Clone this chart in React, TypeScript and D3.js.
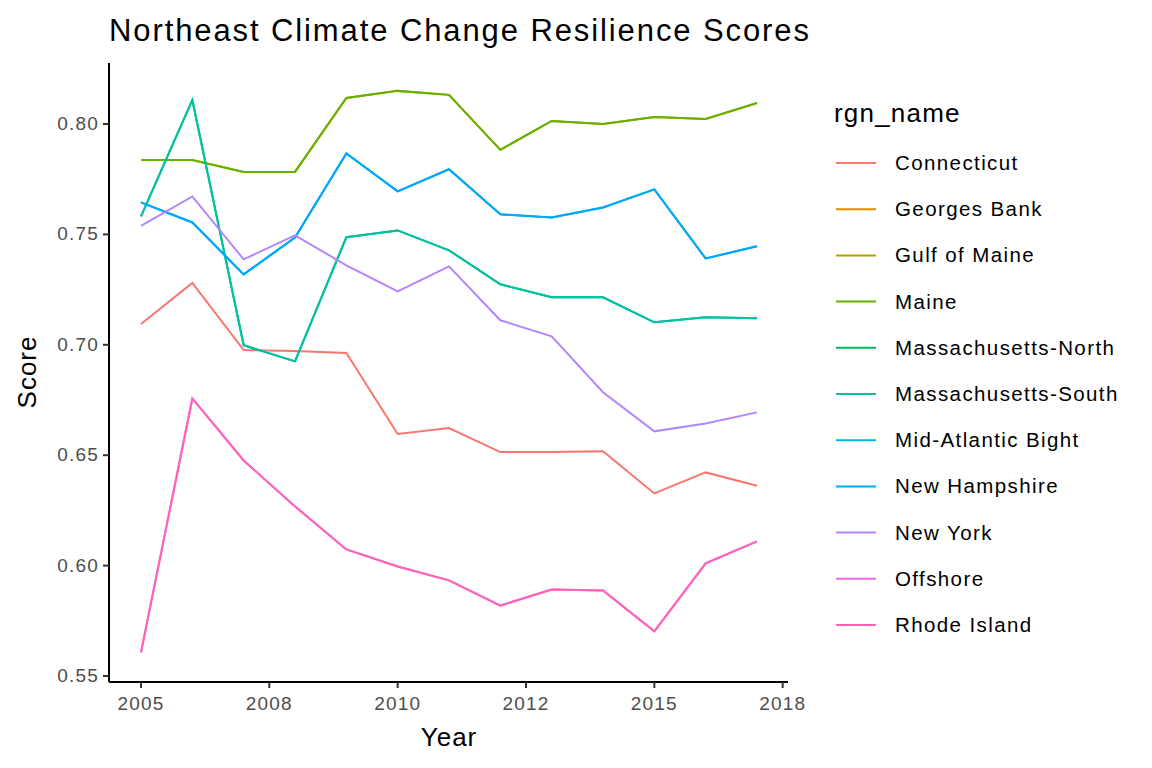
import React from "react";
import * as d3 from "d3";

const years = d3.range(2005, 2018);
const regions = ["Connecticut","Georges Bank","Gulf of Maine","Maine","Massachusetts-North","Massachusetts-South","Mid-Atlantic Bight","New Hampshire","New York","Offshore","Rhode Island"];
const colors = ["#F8766D","#DB8E00","#AEA200","#64B200","#00BD5C","#00C1A7","#00BADE","#00A6FF","#B385FF","#EF67EB","#FF63B6"];
const connecticut = [0.7094,0.728,0.6976,0.6972,0.6963,0.6596,0.6623,0.6514,0.6514,0.6518,0.6327,0.6422,0.6362];
const maine = [0.7837,0.7837,0.7783,0.7783,0.8118,0.815,0.8132,0.7883,0.8014,0.80,0.8032,0.8023,0.8095];
const mass = [0.7582,0.8109,0.6998,0.6925,0.7487,0.7518,0.7428,0.7274,0.7215,0.7215,0.7102,0.7125,0.712];
const newHampshire = [0.7645,0.7554,0.7319,0.7486,0.7867,0.7695,0.7795,0.7591,0.7577,0.7622,0.7704,0.7391,0.7446];
const newYork = [0.7539,0.7672,0.7387,0.7496,0.736,0.7242,0.7355,0.7111,0.7038,0.6785,0.6608,0.6644,0.6694];
const rhodeIsland = [0.5607,0.6757,0.6476,0.6268,0.6073,0.5996,0.5933,0.5819,0.5892,0.5887,0.5702,0.601,0.611];
const seriesData: (number[] | null)[] = [connecticut, null, maine, maine, mass, mass, newHampshire, newHampshire, newYork, rhodeIsland, rhodeIsland];
const xTicks = [2005, 2007.5, 2010, 2012.5, 2015, 2017.5];
const xTickLabels = ["2005","2008","2010","2012","2015","2018"];
const yTicks = [0.55, 0.6, 0.65, 0.7, 0.75, 0.8];

export default function App() {
  const W = 1152, H = 768;
  const x = d3.scaleLinear().domain([2005, 2017]).range([141, 757]);
  const y = d3.scaleLinear().domain([0.55, 0.8]).range([676, 124]);
  const line = d3.line<number>().x((_, i) => x(years[i])).y(d => y(d));
  const f = d3.format(".2f");
  const font = "Liberation Sans, Arial, sans-serif";
  return (
    <svg width={W} height={H} style={{ position: "absolute", left: 0, top: 0 }} fontFamily={font}>
      <rect width={W} height={H} fill="white" />
      <text x={109} y={41} fontSize={31} letterSpacing={1.9}>Northeast Climate Change Resilience Scores</text>
      {seriesData.map((s, i) => s && (
        <path key={i} d={line(s)!} fill="none" stroke={colors[i]} strokeWidth={2} />
      ))}
      <line x1={109} x2={109} y1={63} y2={682} stroke="black" strokeWidth={2} />
      <line x1={109} x2={788} y1={682} y2={682} stroke="black" strokeWidth={2} />
      {yTicks.map(t => (
        <g key={t}>
          <line x1={103} x2={109} y1={y(t)} y2={y(t)} stroke="#333" strokeWidth={2} />
          <text x={99} y={y(t) + 6} textAnchor="end" fontSize={19} letterSpacing={1.2} fill="#4d4d4d">{f(t)}</text>
        </g>
      ))}
      {xTicks.map((t, i) => (
        <g key={t}>
          <line x1={x(t)} x2={x(t)} y1={682} y2={688} stroke="#333" strokeWidth={2} />
          <text x={x(t)} y={710} textAnchor="middle" fontSize={19} letterSpacing={1.2} fill="#4d4d4d">{xTickLabels[i]}</text>
        </g>
      ))}
      <text x={449} y={746} textAnchor="middle" fontSize={26} letterSpacing={1}>Year</text>
      <text transform="translate(36,372) rotate(-90)" textAnchor="middle" fontSize={26} letterSpacing={1}>Score</text>
      <text x={834} y={122} fontSize={26} letterSpacing={1.2}>rgn_name</text>
      {regions.map((r, i) => (
        <g key={r} transform={`translate(0,${163 + i * 46.2})`}>
          <line x1={836} x2={876} y1={0} y2={0} stroke={colors[i]} strokeWidth={2} />
          <text x={895} y={7} fontSize={20.5} letterSpacing={1.4}>{r}</text>
        </g>
      ))}
    </svg>
  );
}
